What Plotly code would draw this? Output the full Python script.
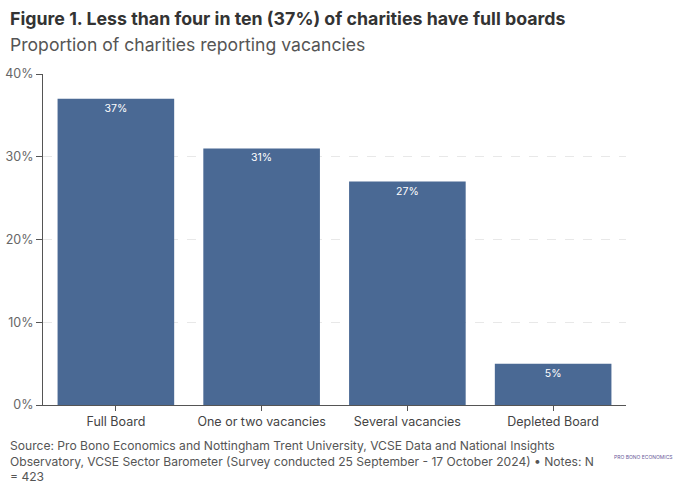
import plotly.graph_objects as go

categories = ["Full Board", "One or two vacancies", "Several vacancies", "Depleted Board"]
values = [37, 31, 27, 5]
y_ticks = [0, 10, 20, 30, 40]
y_tick_labels = ["0%", "10%", "20%", "30%", "40%"]

FONT = "Inter, Lato, sans-serif"
BAR = "#4a6994"

fig = go.Figure(go.Bar(
    x=categories, y=values,
    marker=dict(color=BAR, line=dict(width=0)),
    text=[f"{v}%" for v in values],
    textposition="inside", insidetextanchor="end",
    textfont=dict(color="white", size=10.5, family=FONT),
    hoverinfo="skip",
))

fig.update_layout(
    width=680, height=492,
    margin=dict(l=43, r=54, t=74, b=87),
    paper_bgcolor="white", plot_bgcolor="white",
    bargap=0.2,
    showlegend=False,
    font=dict(family=FONT, color="#444"),
    xaxis=dict(
        showline=True, linecolor="#555", linewidth=1,
        ticks="outside", ticklen=5, tickcolor="#555",
        tickfont=dict(size=12.5, color="#444"),
        showgrid=False, automargin=False,
    ),
    yaxis=dict(
        range=[0, 40], tickvals=y_ticks, ticktext=y_tick_labels,
        showline=True, linecolor="#555", linewidth=1,
        ticks="outside", ticklen=6, tickcolor="#555",
        tickfont=dict(size=12.5, color="#666"),
        showgrid=True, gridcolor="#e8e8e8", griddash="dash", gridwidth=1,
        zeroline=False, automargin=False,
    ),
)

X0 = -43 / 583
fig.add_annotation(text="<b>Figure 1. Less than four in ten (37%) of charities have full boards</b>",
                   xref="paper", yref="paper", x=X0, y=1 + (74-18)/331,
                   xanchor="left", yanchor="middle", showarrow=False, xshift=8,
                   font=dict(size=17.8, color="#333", family=FONT))
fig.add_annotation(text="Proportion of charities reporting vacancies",
                   xref="paper", yref="paper", x=X0, y=1 + (74-45)/331,
                   xanchor="left", yanchor="middle", showarrow=False, xshift=8,
                   font=dict(size=17.6, color="#555", family=FONT))
fig.add_annotation(text="Source: Pro Bono Economics and Nottingham Trent University, VCSE Data and National Insights<br>"
                        "Observatory, VCSE Sector Barometer (Survey conducted 25 September - 17 October 2024) • Notes: N<br>= 423",
                   xref="paper", yref="paper", x=X0, y=-(436-405)/331,
                   xanchor="left", yanchor="top", showarrow=False, align="left", xshift=8,
                   font=dict(size=12.1, color="#555", family=FONT))
fig.add_annotation(text="PRO BONO ECONOMICS",
                   xref="paper", yref="paper", x=(643-43)/583, y=-(457-405)/331,
                   xanchor="center", yanchor="middle", showarrow=False,
                   font=dict(size=5, color="#6a5a9a", family=FONT))

fig.write_html("out.html", config={"displayModeBar": False},
               post_script="document.body.style.margin='0';document.body.style.padding='0';")
